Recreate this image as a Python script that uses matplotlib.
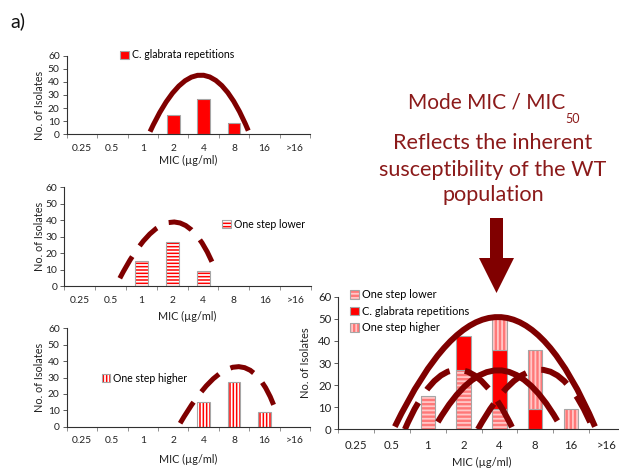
import numpy as np
import matplotlib
matplotlib.use("Agg")
import matplotlib.pyplot as plt
from matplotlib.path import Path
from matplotlib.patches import PathPatch, FancyArrow

plt.rcParams["font.family"] = ["Lato", "DejaVu Sans"]
plt.rcParams["hatch.linewidth"] = 1.3

# MIC categories and isolate counts
mic_labels = ["0.25", "0.5", "1", "2", "4", "8", "16", ">16"]
repetitions = [0, 0, 0, 15, 27, 9, 0, 0]
one_step_lower = [0, 0, 15, 27, 9, 0, 0, 0]
one_step_higher = [0, 0, 0, 0, 15, 27, 9, 0]

# distribution curves: start, control, end (category index, isolates)
curve_rep = [(2.24, 2.0), (3.95, 88.0), (5.47, 2.8)]
curve_lower = [(1.30, 4.7), (3.10, 70.0), (4.38, 10.7)]
curve_higher = [(3.23, 2.1), (5.30, 68.0), (6.41, 8.1)]
curve_all = [(1.08, 1.2), (4.05, 100.4), (6.67, 1.2)]
curve_all_rep = [(2.28, 3.3), (3.97, 49.9), (5.62, 3.8)]
curve_all_lower = [(1.36, 0.0), (2.80, 54.0), (4.38, 0.0)]
curve_all_higher = [(3.40, 0.0), (5.25, 54.0), (6.62, 0.0)]

RED = "#ff0000"
DARK = "#7f0000"
EDGE = "#a6a6a6"
INK = "#222222"
W, H = 619, 469

fig = plt.figure(figsize=(W / 100, H / 100), dpi=100)


def add_axes(left, right, top, bottom):
    return fig.add_axes([left / W, 1 - bottom / H, (right - left) / W, (bottom - top) / H])


def bars(ax, heights, bottom=None, face=RED, stripe=None, hatch=None, width=0.42):
    heights = np.asarray(heights, dtype=float)
    bottom = np.zeros_like(heights) if bottom is None else np.asarray(bottom, dtype=float)
    x = np.arange(len(heights))
    m = heights > 0
    if hatch:
        fill = ax.bar(x[m], heights[m], width, bottom=bottom[m], color=face,
                      edgecolor=stripe, hatch=hatch, lw=0, zorder=2)
    else:
        fill = ax.bar(x[m], heights[m], width, bottom=bottom[m], color=face, lw=0, zorder=2)
    edge = ax.bar(x[m], heights[m], width, bottom=bottom[m], fill=False,
                  edgecolor=EDGE, lw=0.8, zorder=2)
    return (fill[0], edge[0])


def arc(ax, pts, lw, dashed=False):
    path = Path(pts, [Path.MOVETO, Path.CURVE3, Path.CURVE3])
    ls = (0, (5, 2.6)) if dashed else "-"
    ax.add_patch(PathPatch(path, fill=False, edgecolor=DARK, lw=lw, linestyle=ls,
                           capstyle="butt", zorder=3))


def style(ax, fs, lab_fs, pad_x, label_y, ylab_x, ylab_y):
    ax.set_xlim(-0.5, 7.5)
    ax.set_ylim(0, 60)
    ax.set_yticks(range(0, 61, 10))
    ax.set_xticks(np.arange(-0.5, 8, 1))
    ax.set_xticklabels([])
    ax.set_xticks(np.arange(8), minor=True)
    ax.set_xticklabels(mic_labels, minor=True)
    ax.tick_params(axis="x", which="major", length=3, width=0.6, color="#808080")
    ax.tick_params(axis="x", which="minor", length=0, pad=pad_x, labelsize=fs, labelcolor=INK)
    ax.tick_params(axis="y", length=3, width=0.6, pad=2, labelsize=fs, labelcolor=INK, color="#404040")
    for s in ["top", "right"]:
        ax.spines[s].set_visible(False)
    for s in ["left", "bottom"]:
        ax.spines[s].set_color("#303030")
        ax.spines[s].set_linewidth(0.8)
    ax.set_xlabel("MIC (µg/ml)", fontsize=lab_fs, color=INK, va="center")
    ax.xaxis.set_label_coords(0.5, label_y)
    ax.text(ylab_x, ylab_y, "No. of Isolates", transform=ax.transAxes, rotation=90,
            ha="center", va="center", fontsize=lab_fs, color=INK)


def legend(ax, handles, labels, fs, anchor, loc="center left"):
    ax.legend(handles, labels, loc=loc, bbox_to_anchor=anchor, frameon=False,
              fontsize=fs, handlelength=0.8, handleheight=0.8, handletextpad=0.3,
              borderpad=0, borderaxespad=0, labelspacing=0.5)


# C. glabrata repetitions
ax1 = add_axes(66.7, 310, 55.7, 134.3)
h = bars(ax1, repetitions)
arc(ax1, curve_rep, 3.6)
style(ax1, 7.4, 7.8, 7, -0.33, -0.11, 0.37)
legend(ax1, [h], ["C. glabrata repetitions"], 7.6, (0.22, 1.01))

# one step lower
ax2 = add_axes(64.3, 311, 187.3, 286)
h = bars(ax2, one_step_lower, stripe="white", hatch="-----")
arc(ax2, curve_lower, 3.6, dashed=True)
style(ax2, 7.4, 7.8, 7, -0.31, -0.1, 0.5)
legend(ax2, [h], ["One step lower"], 7.6, (0.64, 0.625))

# one step higher
ax3 = add_axes(66.7, 310, 328.3, 426.7)
h = bars(ax3, one_step_higher, stripe="white", hatch="|||||")
arc(ax3, curve_higher, 3.6, dashed=True)
style(ax3, 7.4, 7.8, 7, -0.33, -0.11, 0.5)
legend(ax3, [h], ["One step higher"], 7.6, (0.144, 0.49))

# all isolates stacked
ax4 = add_axes(338.3, 624.7, 296.7, 429.3)
lo = np.array(one_step_lower, dtype=float)
rep = np.array(repetitions, dtype=float)
hi = np.array(one_step_higher, dtype=float)
h_lo = bars(ax4, lo, face="#ff7878", stripe="#ffc8c8", hatch="----", width=0.4)
h_rep = bars(ax4, rep, bottom=lo, width=0.4)
h_hi = bars(ax4, hi, bottom=lo + rep, face="#ff7878", stripe="#ffc8c8", hatch="||||", width=0.4)
arc(ax4, curve_all, 4.3)
arc(ax4, curve_all_rep, 4.3)
arc(ax4, curve_all_lower, 4.3, dashed=True)
arc(ax4, curve_all_higher, 4.3, dashed=True)
style(ax4, 8.2, 8.0, 8, -0.25, -0.115, 0.5)
legend(ax4, [h_lo, h_rep, h_hi], ["One step lower", "C. glabrata repetitions", "One step higher"],
       7.9, (0.04, 1.055), loc="upper left")

# panel tag and annotation
fig.text(10 / W, 1 - 21 / H, "a)", fontsize=14, ha="left", va="center", color="#111111")
TXT = "#8b1a1a"
fig.text(487 / W, 1 - 102 / H, "Mode MIC / MIC", fontsize=15, ha="center", va="center", color=TXT)
fig.text(573 / W, 1 - 119 / H, "50", fontsize=9, ha="center", va="center", color=TXT)
for y, s in [(143, "Reflects the inherent"), (170, "susceptibility of the WT"), (195, "population")]:
    fig.text(493 / W, 1 - y / H, s, fontsize=15.6, ha="center", va="center", color=TXT)

fig.patches.append(FancyArrow(4.965, (H - 218) / 100, 0, -0.75, width=0.13, head_width=0.35,
                              head_length=0.35, length_includes_head=True, color="#800000",
                              lw=0, transform=fig.dpi_scale_trans, figure=fig))

fig.savefig("out.png", dpi=100)
